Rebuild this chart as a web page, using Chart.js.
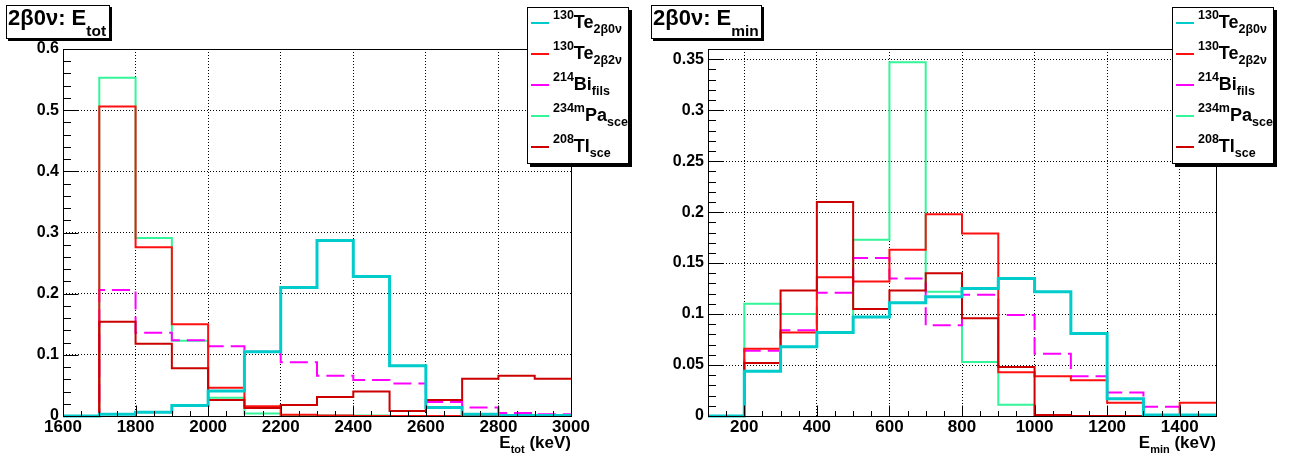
<!DOCTYPE html>
<html>
<head>
<meta charset="utf-8">
<script src="https://cdn.jsdelivr.net/npm/chart.js@4.4.0/dist/chart.umd.min.js"></script>
<style>
  body { margin: 0; background: #fff; }
  #cadre { position: relative; width: 1290px; height: 461px; overflow: hidden; background: #fff;
           font-family: "Liberation Sans", Arial, sans-serif; font-weight: bold; color: #000; }
  canvas { position: absolute; top: 0; }
  .titre { position: absolute; top: 5px; height: 32px; border: 1px solid #000; background: #fff;
           box-shadow: 2px 2px 0 #000; font-size: 22px; line-height: 23px; padding-left: 1px; white-space: nowrap; }
  .titre .bas { font-size: 15.5px; position: relative; top: 11px; }
  .legende { position: absolute; top: 7px; width: 100px; height: 155px; border: 1px solid #000; background: #fff;
             box-shadow: 3px 3px 0 #000; }
  .ligne { position: absolute; left: 25px; font-size: 18px; line-height: 20px; white-space: nowrap; }
  .ligne .haut { font-size: 12.5px; position: relative; top: -9px; }
  .ligne .bas { font-size: 12.5px; position: relative; top: 5px; }
  .trait { position: absolute; left: 3px; width: 18px; }
  .axe { position: absolute; top: 433px; text-align: right; font-size: 17px; line-height: 20px; white-space: nowrap; }
  .axe .bas { font-size: 11px; position: relative; top: 5px; }
</style>
</head>
<body>
<div id="cadre">
  <canvas id="grafTot" width="645" height="461" style="left:0"></canvas>
  <canvas id="grafMin" width="645" height="461" style="left:645px"></canvas>

  <div class="titre" style="left:6px; width:101px;">2β0ν: E<span class="bas">tot</span></div>
  <div class="titre" style="left:651px; width:108px;">2β0ν: E<span class="bas">min</span></div>

  <div class="legende" id="legTot" style="left:527px;"></div>
  <div class="legende" id="legMin" style="left:1172px;"></div>

  <div class="axe" style="left:0; width:571px;">E<span class="bas">tot</span> (keV)</div>
  <div class="axe" style="left:0; width:1216px;">E<span class="bas">min</span> (keV)</div>
</div>

<script>
// Bords des bins (keV)
const binsTot = [1600, 1700, 1800, 1900, 2000, 2100, 2200, 2300, 2400, 2500, 2600, 2700, 2800, 2900, 3000];
const binsMin = [100, 200, 300, 400, 500, 600, 700, 800, 900, 1000, 1100, 1200, 1300, 1400, 1500];

// Graduations
const ticksXTot = [1600, 1800, 2000, 2200, 2400, 2600, 2800, 3000];
const ticksXMin = [200, 400, 600, 800, 1000, 1200, 1400];
const ticksYTot = [0, 0.1, 0.2, 0.3, 0.4, 0.5, 0.6];
const ticksYMin = [0, 0.05, 0.1, 0.15, 0.2, 0.25, 0.3, 0.35];

// Legende
const isotopes = ['130', '130', '214', '234m', '208'];
const elements = ['Te', 'Te', 'Bi', 'Pa', 'Tl'];
const indices = ['2β0ν', '2β2ν', 'fils', 'sce', 'sce'];

// E_tot : contenu par bin
const te0nuTot = [0, 0.003, 0.006, 0.017, 0.041, 0.105, 0.210, 0.287, 0.228, 0.082, 0.014, 0.003, 0.001, 0.001];
const te2nuTot = [0, 0.506, 0.276, 0.150, 0.046, 0.016, 0.002, 0.001, 0, 0, 0, 0, 0, 0];
const biTot    = [0, 0.206, 0.136, 0.124, 0.114, 0.105, 0.088, 0.066, 0.059, 0.053, 0.023, 0.014, 0.005, 0.003];
const paTot    = [0, 0.553, 0.291, 0.123, 0.030, 0.004, 0.001, 0.001, 0.001, 0, 0, 0, 0, 0];
const tlTot    = [0, 0.154, 0.118, 0.078, 0.026, 0.013, 0.018, 0.031, 0.040, 0.008, 0.026, 0.061, 0.066, 0.061];

// E_min : contenu par bin
const te0nuMin = [0, 0.044, 0.068, 0.082, 0.097, 0.111, 0.117, 0.125, 0.135, 0.122, 0.081, 0.017, 0.001, 0.001];
const te2nuMin = [0, 0.066, 0.082, 0.136, 0.132, 0.163, 0.198, 0.179, 0.043, 0.039, 0.035, 0.013, 0, 0.013];
const biMin    = [0, 0.064, 0.084, 0.121, 0.155, 0.135, 0.089, 0.119, 0.099, 0.061, 0.039, 0.023, 0.009, 0.001];
const paMin    = [0, 0.110, 0.100, 0.082, 0.173, 0.347, 0.122, 0.053, 0.011, 0, 0, 0, 0, 0];
const tlMin    = [0, 0.052, 0.123, 0.210, 0.105, 0.123, 0.140, 0.096, 0.048, 0.001, 0, 0, 0, 0];

const couleurs = ['#00cccc', '#ff1010', '#ff00ff', '#33f599', '#cc0000'];
const epaisseurs = [3, 2, 2, 2, 2];
const police = '"Liberation Sans", Arial, sans-serif';

// histogramme -> points pour une ligne en escalier
function histo(bords, valeurs) {
    const pts = valeurs.map((v, i) => ({ x: bords[i], y: v }));
    pts.push({ x: bords[bords.length - 1], y: valeurs[valeurs.length - 1] });
    return pts;
}

// Cadre et graduations vers l'interieur, facon ROOT
const cadreRoot = {
    id: 'cadreRoot',
    afterDatasetsDraw(chart, args, opts) {
        const { ctx, chartArea: a, scales: { x, y } } = chart;
        const L = Math.round(a.left) + 0.5, R = Math.round(a.right) + 0.5;
        const T = Math.round(a.top) + 0.5, B = Math.round(a.bottom) + 0.5;
        ctx.save();
        ctx.strokeStyle = '#000';
        ctx.lineWidth = 1;
        ctx.beginPath();
        const ny = Math.round(y.max / opts.yMineur);
        for (let i = 0; i <= ny; i++) {
            const py = Math.round(y.getPixelForValue(i * opts.yMineur)) + 0.5;
            const lg = (i % opts.yPas === 0) ? 15 : 7.5;
            ctx.moveTo(L, py);
            ctx.lineTo(L + lg, py);
        }
        const nx = Math.round((x.max - x.min) / opts.xMineur);
        for (let i = 0; i <= nx; i++) {
            const v = x.min + i * opts.xMineur;
            const px = Math.round(x.getPixelForValue(v)) + 0.5;
            const lg = (v % opts.xMajeur === 0) ? 11 : 5.5;
            ctx.moveTo(px, B);
            ctx.lineTo(px, B - lg);
        }
        ctx.stroke();
        ctx.strokeRect(L, T, R - L, B - T);
        ctx.restore();
    }
};

function panneau(id, bords, series, ymax, ticksX, ticksY, graduations) {
    const grafica = document.getElementById(id);
    new Chart(grafica, {
        type: 'line',
        data: {
            datasets: series.map((s, i) => ({
                data: histo(bords, s),
                borderColor: couleurs[i],
                borderWidth: epaisseurs[i],
                borderDash: i === 2 ? [18, 7] : [],
                stepped: 'before', // palier horizontal puis saut vertical au bord du bin
                pointRadius: 0,
                fill: false,
                clip: false,
                order: [0, 2, 3, 4, 1][i]
            }))
        },
        options: {
            responsive: false,
            animation: false,
            layout: { padding: { left: 0, right: 74, top: 49, bottom: 0 } },
            plugins: {
                legend: { display: false },
                tooltip: { enabled: false },
                cadreRoot: graduations
            },
            scales: {
                x: {
                    type: 'linear',
                    min: bords[0],
                    max: bords[bords.length - 1],
                    afterFit: (s) => { s.height = 45; },
                    afterBuildTicks: (s) => { s.ticks = ticksX.map(v => ({ value: v })); },
                    grid: { color: '#000', lineWidth: 1, drawTicks: false },
                    border: { display: false, dash: [1, 2] },
                    ticks: {
                        color: '#000', padding: 1, maxRotation: 0, autoSkip: false,
                        font: { family: police, size: 17, weight: 'bold' },
                        callback: (v) => String(v)
                    }
                },
                y: {
                    min: 0,
                    max: ymax,
                    afterFit: (s) => { s.width = 63; },
                    afterBuildTicks: (s) => { s.ticks = ticksY.map(v => ({ value: v })); },
                    grid: { color: '#000', lineWidth: 1, drawTicks: false },
                    border: { display: false, dash: [1, 2] },
                    ticks: {
                        color: '#000', padding: 4, autoSkip: false,
                        font: { family: police, size: 16, weight: 'bold' },
                        callback: (v) => String(v)
                    }
                }
            }
        },
        plugins: [cadreRoot]
    });
}

function legende(id) {
    const boite = document.getElementById(id);
    isotopes.forEach((iso, i) => {
        const trait = document.createElement('div');
        trait.className = 'trait';
        trait.style.top = (14 + i * 31) + 'px';
        trait.style.height = '2px';
        trait.style.background = couleurs[i];
        boite.appendChild(trait);
        const txt = document.createElement('div');
        txt.className = 'ligne';
        txt.style.top = (4 + i * 31) + 'px';
        txt.innerHTML = '<span class="haut">' + iso + '</span>' + elements[i] + '<span class="bas">' + indices[i] + '</span>';
        boite.appendChild(txt);
    });
}

document.addEventListener('DOMContentLoaded', function () {
    panneau('grafTot', binsTot, [te0nuTot, te2nuTot, biTot, paTot, tlTot], 0.6, ticksXTot, ticksYTot,
        { yMineur: 0.02, yPas: 5, xMineur: 50, xMajeur: 200 });
    panneau('grafMin', binsMin, [te0nuMin, te2nuMin, biMin, paMin, tlMin], 0.36, ticksXMin, ticksYMin,
        { yMineur: 0.01, yPas: 5, xMineur: 50, xMajeur: 200 });
    legende('legTot');
    legende('legMin');
});
</script>
</body>
</html>
